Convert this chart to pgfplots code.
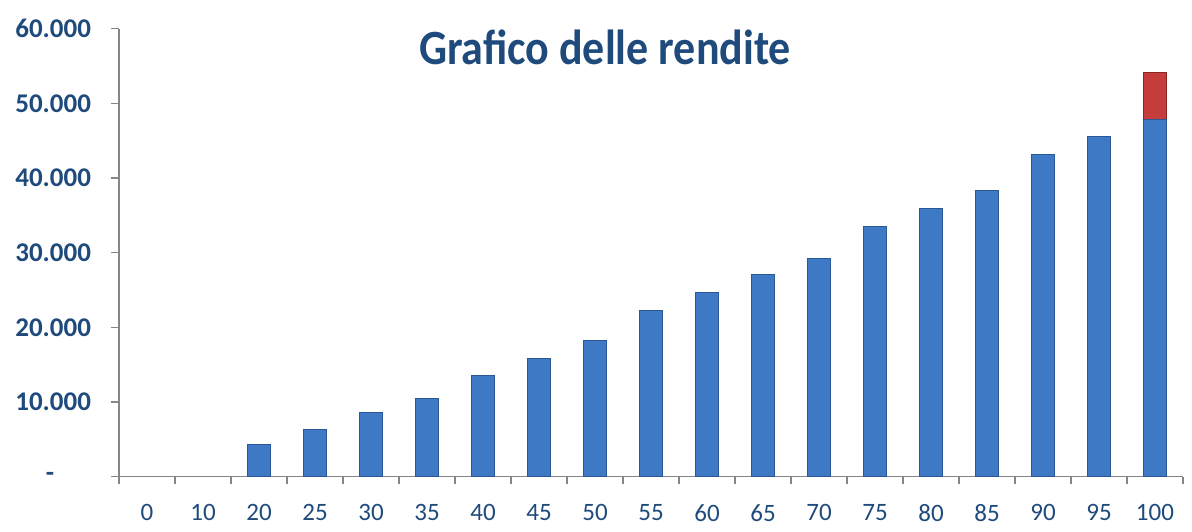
\documentclass[border=0pt]{standalone}
\usepackage{pgfplots}
\pgfplotsset{compat=1.18}
\usepackage{fontspec}
\setmainfont{Carlito}
\definecolor{lbl}{HTML}{1F4A7C}
\definecolor{axgray}{HTML}{868686}
\definecolor{bluefill}{HTML}{3D79C4}
\definecolor{blueedge}{HTML}{2B5794}
\definecolor{redfill}{HTML}{C43C3C}
\definecolor{rededge}{HTML}{8E2525}
\begin{document}
\begin{tikzpicture}
\begin{axis}[
  scale only axis,
  width=1064pt, height=448pt,
  xmin=-0.5, xmax=18.5,
  ymin=0, ymax=60000,
  axis lines=left,
  axis line style={-, axgray, line width=1.5pt},
  xtick={0,...,18},
  xticklabels={0,10,20,25,30,35,40,45,50,55,60,65,70,75,80,85,90,95,100},
  minor xtick={-0.5,0.5,...,18.5},
  major x tick style={draw=none},
  minor x tick style={axgray, line width=1.5pt},
  ytick={0,10000,...,60000},
  scaled y ticks=false,
  yticklabels={{\makebox[45pt][l]{-}},10.000,20.000,30.000,40.000,50.000,60.000},
  y tick style={axgray, line width=1.5pt},
  tick align=outside,
  major tick length=7.5pt,
  minor tick length=7.5pt,
  x tick label style={font=\fontsize{25}{25}\selectfont, text=lbl, yshift=-17pt},
  y tick label style={font=\fontsize{27}{27}\selectfont\bfseries, text=lbl, xshift=-17pt},
  ybar, bar width=23.3pt, bar shift=0pt,
  clip=false,
]
% totale a 100 (parte rossa)
\addplot[draw=rededge, line width=1pt, fill=redfill]
  coordinates {(18,54170)};
% rendite
\addplot[draw=blueedge, line width=1pt, fill=bluefill]
  coordinates {
  (2,4310) (3,6270) (4,8630) (5,10500) (6,13490) (7,15860) (8,18270)
  (9,22290) (10,24700) (11,27110) (12,29260) (13,33540) (14,35950)
  (15,38370) (16,43130) (17,45600) (18,47880)
  };
\node[anchor=base, text=lbl, font=\fontsize{44}{44}\selectfont\bfseries]
  at (rel axis cs:0.4568,0.919) {\scalebox{1}[1.12]{Grafico delle rendite}};
\end{axis}
\pgfresetboundingbox
\path[use as bounding box] (-119pt,-55.3pt) rectangle (1073pt,476.7pt);
\end{tikzpicture}
\end{document}
